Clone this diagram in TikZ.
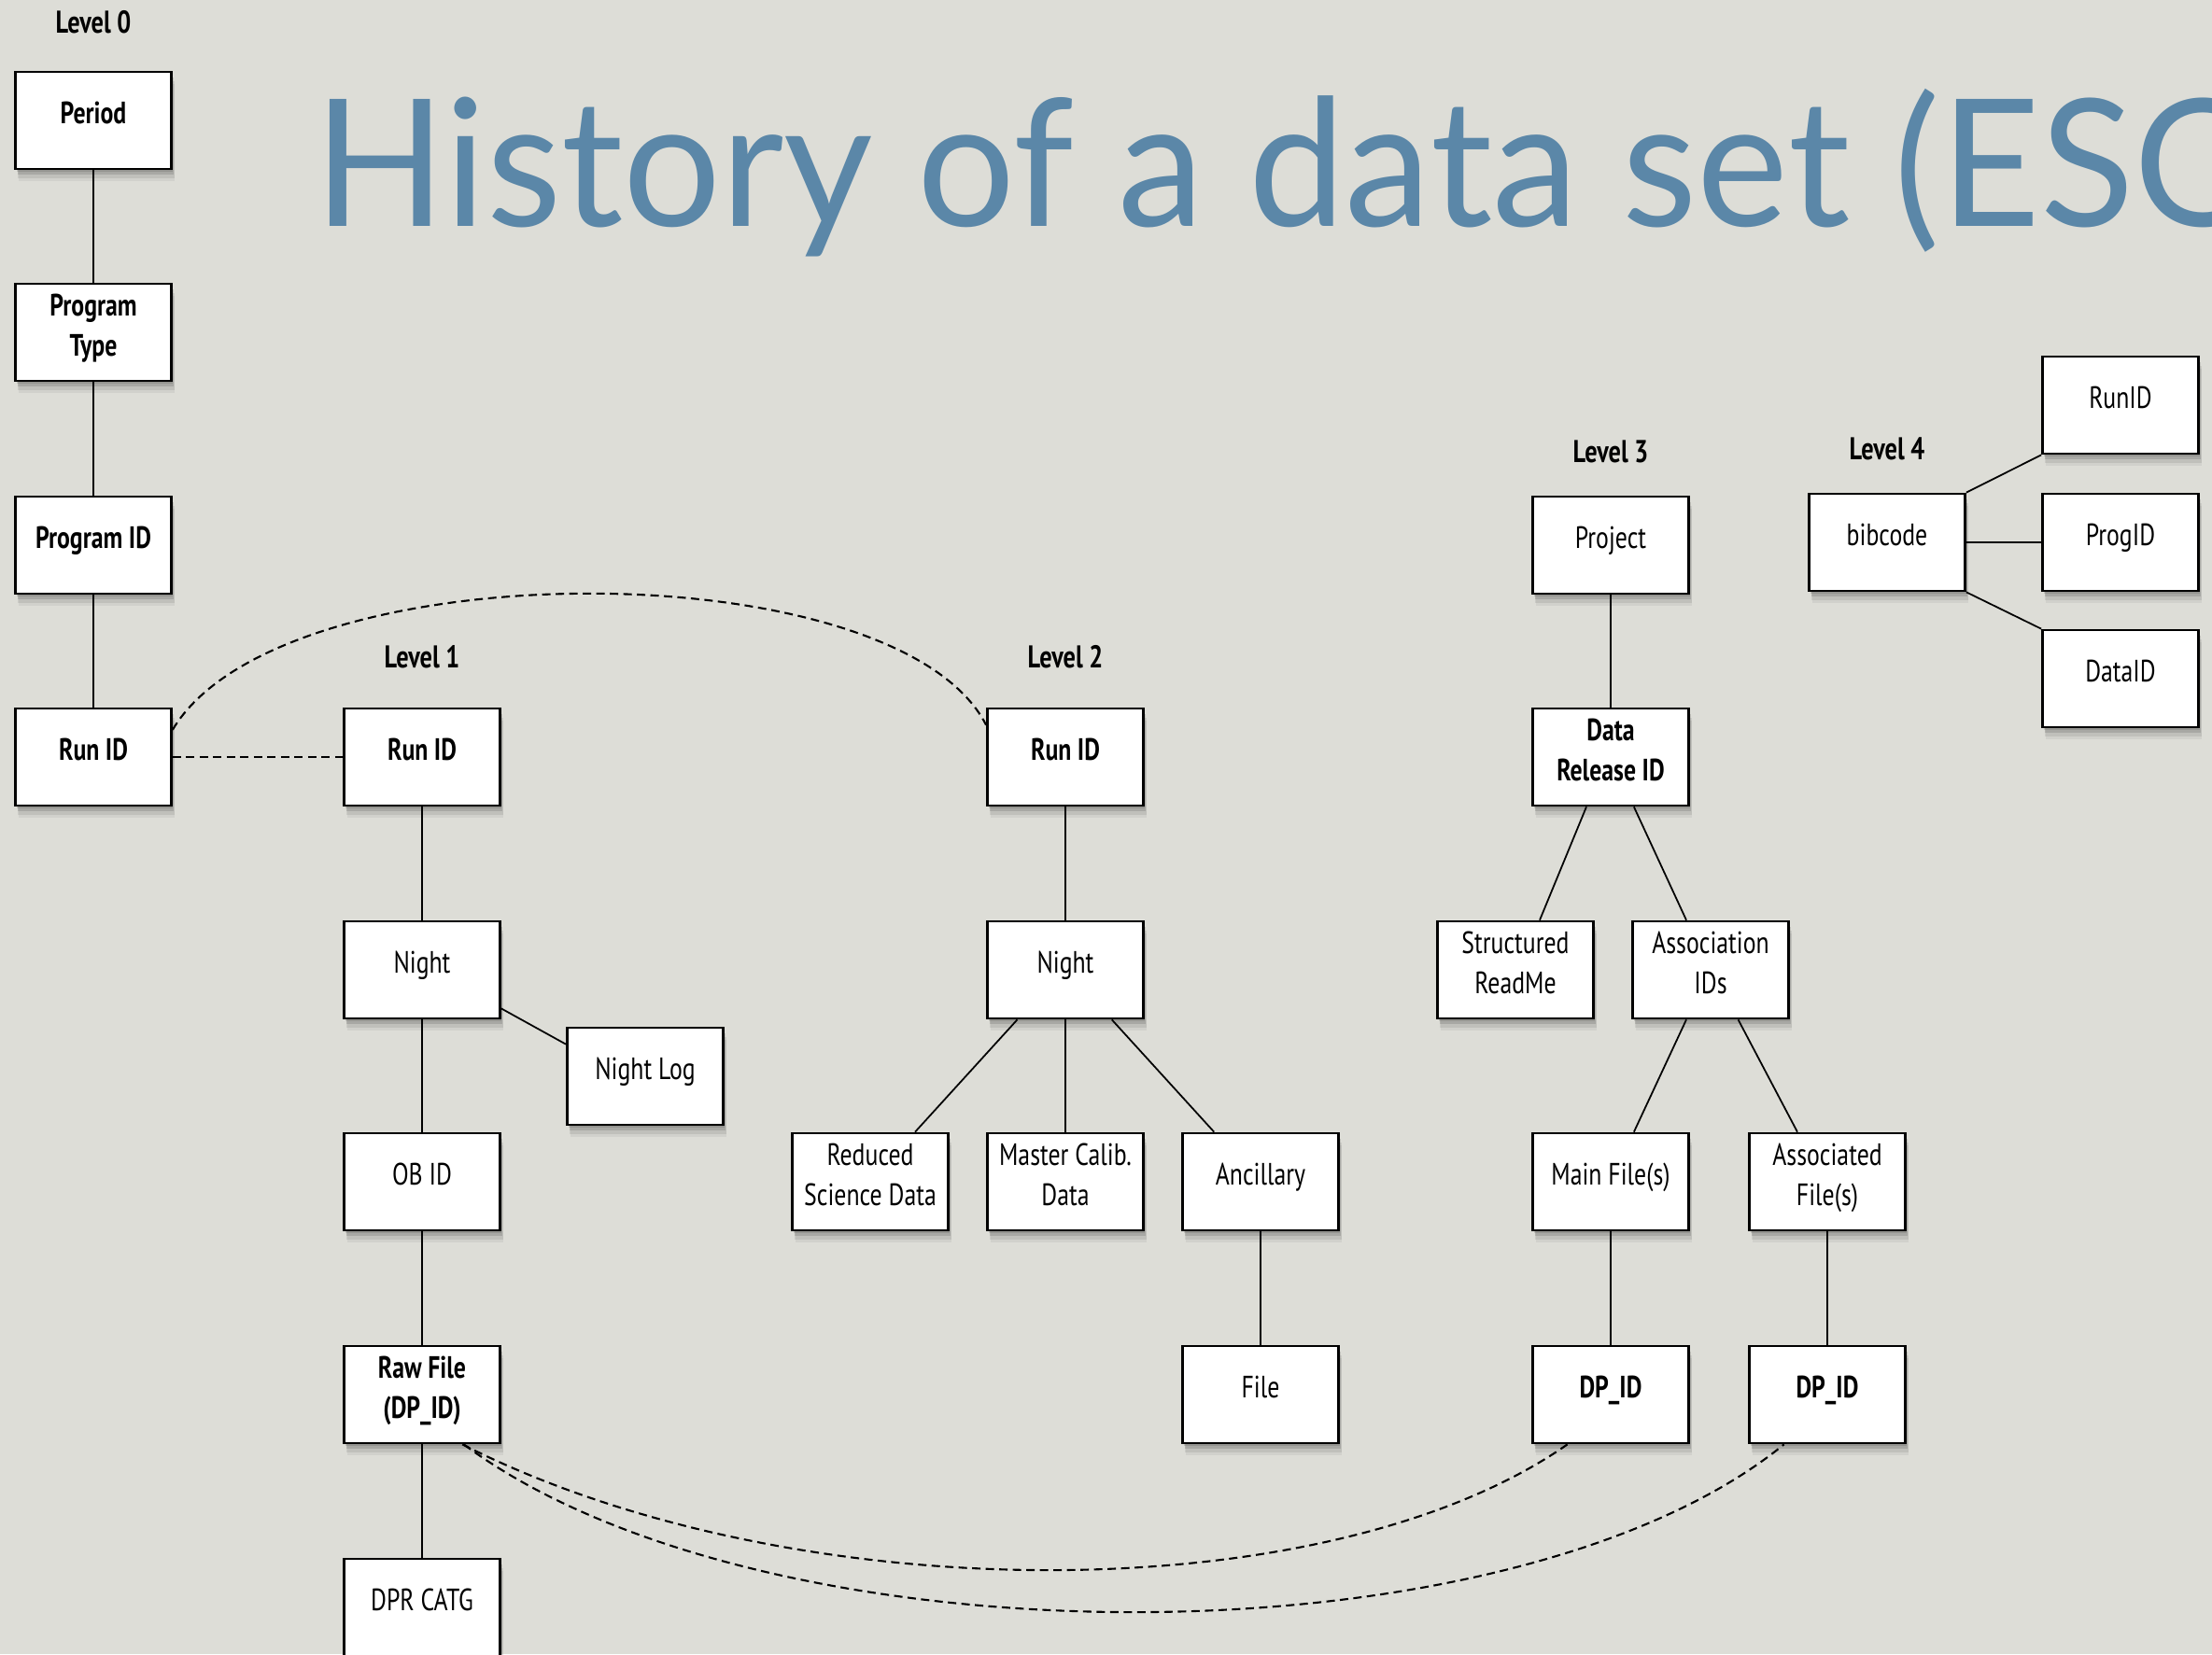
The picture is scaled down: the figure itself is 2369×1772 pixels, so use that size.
\documentclass[tikz,border=0pt]{standalone}
\usepackage{fontspec}
\setmainfont{PT Sans}[FakeStretch=0.78]
\newfontfamily\titlefont{Lato}[FakeStretch=0.975]
\usetikzlibrary{shadows}
\definecolor{bgc}{HTML}{DDDDD7}
\definecolor{titlec}{HTML}{5B87A8}
\tikzset{
  bx/.style={draw=black, line width=0.75pt, fill=white, minimum width=1.67cm, minimum height=1.04cm, inner sep=0pt,
    general shadow={fill=black, opacity=0.12, shadow xshift=0.015cm, shadow yshift=-0.03cm},
    general shadow={fill=black, opacity=0.12, shadow xshift=0.025cm, shadow yshift=-0.06cm},
    general shadow={fill=black, opacity=0.08, shadow xshift=0.03cm, shadow yshift=-0.10cm},
    general shadow={fill=black, opacity=0.05, shadow xshift=0.035cm, shadow yshift=-0.13cm}},
  tx/.style={anchor=base, inner sep=0pt, font=\fontsize{9.4pt}{12.2pt}\selectfont},
  lvl/.style={anchor=base, inner sep=0pt, font=\fontsize{9.6pt}{12.2pt}\selectfont\bfseries},
  conn/.style={line width=0.5pt},
  dconn/.style={line width=0.6pt, dash pattern=on 0.09cm off 0.055cm},
}
\newcommand\boxA[4]{%
  \node[bx] (#1) at (#2,#3+52) {};
  \node[tx] (#1t) at (#2,#3+55.5) {\parbox[t]{2cm}{\centering #4}};}
\newcommand\boxB[4]{%
  \node[bx] (#1) at (#2,#3+52) {};
  \node[tx] (#1t) at (#2,#3+34.5) {\parbox[t]{2cm}{\centering #4}};}
\begin{document}
\begin{tikzpicture}[x=0.01cm, y=-0.01cm]
\useasboundingbox (0,0) rectangle (2369,1772);
\clip (0,0) rectangle (2369,1772);
\fill[bgc] (0,0) rectangle (2369,1772);
% title
\node[anchor=base west, inner sep=0pt, text=titlec, font=\titlefont\fontsize{54pt}{54pt}\selectfont] (title) at (336,242) {History of a data set (ESO};
% level labels
\node[lvl] (lv0) at (100,35.5) {Level 0};
\node[lvl] (lv1) at (452,715.5) {Level 1};
\node[lvl] (lv2) at (1141,715.5) {Level 2};
\node[lvl] (lv3) at (1725,495) {Level 3};
\node[lvl] (lv4) at (2021,492) {Level 4};
% level 0
\boxA{per}{100}{77}{\textbf{Period}}
\boxB{ptype}{100}{304}{\textbf{Program}\\\textbf{Type}}
\boxA{pid}{100}{532}{\textbf{Program ID}}
\boxA{rid0}{100}{759}{\textbf{Run ID}}
% level 1
\boxA{rid1}{452}{759}{\textbf{Run ID}}
\boxA{n1}{452}{987}{Night}
\boxA{nlog}{691}{1101}{Night Log}
\boxA{ob}{452}{1214}{OB ID}
\boxB{raw}{452}{1442}{\textbf{Raw File}\\\textbf{(DP\_ID)}}
\boxA{dpr}{452}{1670}{DPR CATG}
% level 2
\boxA{rid2}{1141}{759}{\textbf{Run ID}}
\boxA{n2}{1141}{987}{Night}
\boxB{red}{932}{1214}{Reduced\\Science Data}
\boxB{mcal}{1141}{1214}{Master Calib.\\Data}
\boxA{anc}{1350}{1214}{Ancillary}
\boxA{file}{1350}{1442}{File}
% level 3
\boxA{proj}{1725}{532}{Project}
\boxB{drid}{1725}{759}{\textbf{Data}\\\textbf{Release ID}}
\boxB{str}{1623}{987}{Structured\\ReadMe}
\boxB{asc}{1832}{987}{Association\\IDs}
\boxA{mf}{1725}{1214}{Main File(s)}
\boxB{af}{1957}{1214}{Associated\\File(s)}
\boxA{dp1}{1725}{1442}{\textbf{DP\_ID}}
\boxA{dp2}{1957}{1442}{\textbf{DP\_ID}}
% level 4
\boxA{bib}{2021}{529}{bibcode}
\boxA{runid}{2271}{382}{RunID}
\boxA{prog}{2271}{529}{ProgID}
\boxA{dat}{2271}{675}{DataID}
% solid connectors
\draw[conn] (per) -- (ptype);
\draw[conn] (ptype) -- (pid);
\draw[conn] (pid) -- (rid0);
\draw[conn] (rid1) -- (n1);
\draw[conn] (n1) -- (ob);
\draw[conn] (ob) -- (raw);
\draw[conn] (raw) -- (dpr);
\draw[conn] (n1.-26) -- (nlog.158);
\draw[conn] (rid2) -- (n2);
\draw[conn] (n2.-134) -- (red.48);
\draw[conn] (n2) -- (mcal);
\draw[conn] (n2.-47) -- (anc.133);
\draw[conn] (anc) -- (file);
\draw[conn] (proj) -- (drid);
\draw[conn] (drid.-116) -- (str.64);
\draw[conn] (drid.-65) -- (asc.116);
\draw[conn] (asc.-116) -- (mf.65);
\draw[conn] (asc.-61) -- (af.121);
\draw[conn] (mf) -- (dp1);
\draw[conn] (af) -- (dp2);
\draw[conn] (bib.north east) -- (runid.south west);
\draw[conn] (bib) -- (prog);
\draw[conn] (bib.south east) -- (dat.north west);
% dashed connectors
\draw[dconn] (rid0) -- (rid1);
\draw[dconn] (rid0.19) .. controls (300,588) and (960,588) .. (rid2.158);
\draw[dconn] (raw.-51) .. controls (849,1727) and (1422,1727) .. (dp1.-131);
\draw[dconn] (raw.-50) .. controls (819,1787) and (1617,1787) .. (dp2.-131);
\end{tikzpicture}
\end{document}
